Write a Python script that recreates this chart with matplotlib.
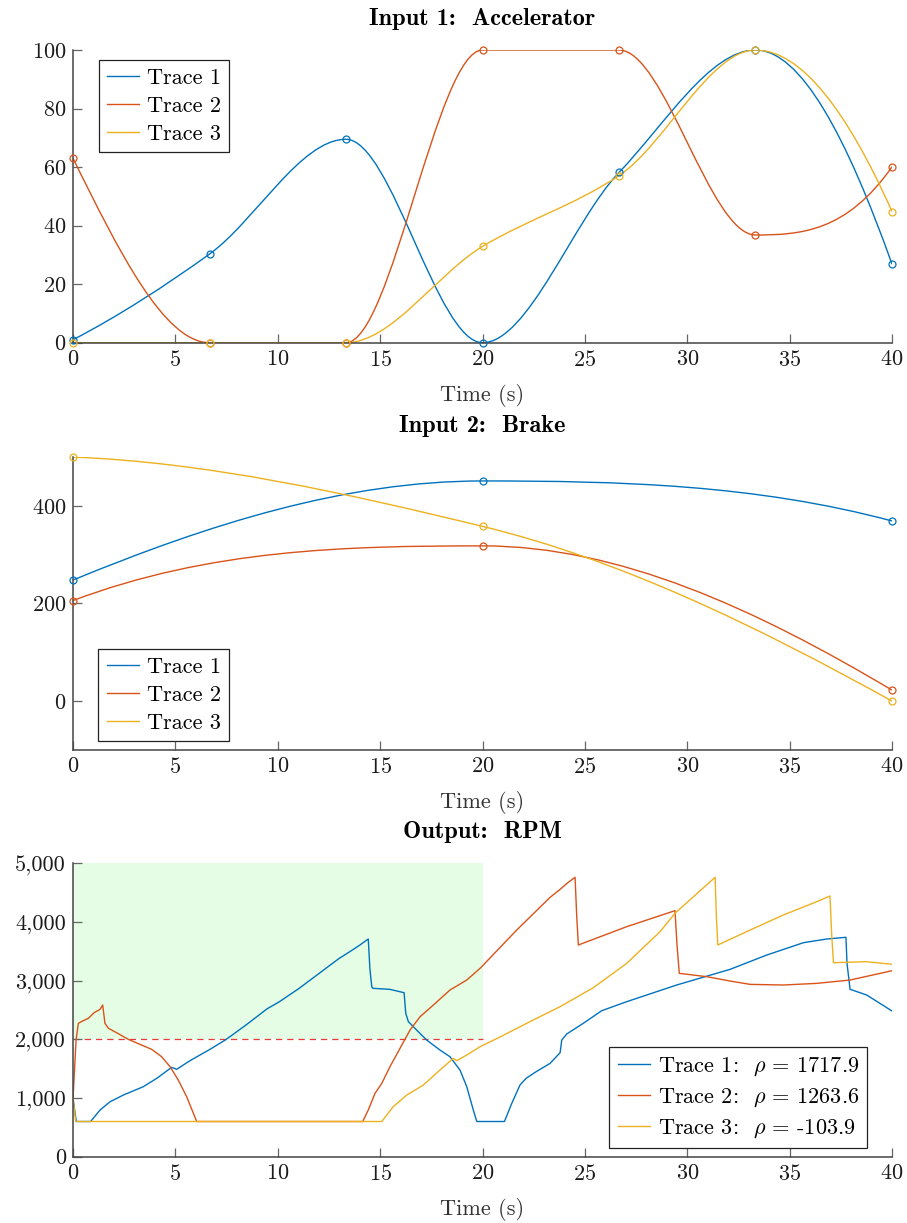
import numpy as np
import matplotlib
matplotlib.use('Agg')
import matplotlib.pyplot as plt
from matplotlib.path import Path
from matplotlib.patches import PathPatch
from matplotlib.lines import Line2D
from matplotlib.ticker import FuncFormatter

plt.rcParams['font.family'] = 'cmr10'
plt.rcParams['mathtext.fontset'] = 'cm'
plt.rcParams['axes.unicode_minus'] = False
plt.rcParams['axes.formatter.use_mathtext'] = True

# culori (paleta matlab)
colors = ['#0072BD', '#D95319', '#EDB120']
names = ['Trace 1', 'Trace 2', 'Trace 3']

# input 1 - accelerator, puncte
acc_t = [0, 6.67, 13.33, 20, 26.67, 33.33, 40]
acc_1 = [1, 30.3, 69.5, 0, 58.2, 100, 26.8]
acc_2 = [63, 0, 0, 100, 100, 36.8, 60.1]
acc_3 = [0, 0, 0, 32.9, 57.1, 100, 44.8]

# input 2 - brake
brk_t = [0, 20, 40]
brk_1 = [248, 451, 369]
brk_2 = [206, 318, 22.5]
brk_3 = [500, 358, 0]

# output - rpm
rpm_t1 = [0, 0.16, 0.86, 1.32, 1.81, 2.46, 3.43, 4.09, 4.82, 5.06, 5.71, 6.69, 7.45, 8.42,
          9.48, 10.05, 11.02, 12.0, 12.98, 13.5, 14.0, 14.42, 14.5, 14.59, 14.64, 15.48, 16.17,
          16.25, 16.38, 16.78, 17.27, 17.92, 18.41, 18.9, 19.23, 19.55, 19.72, 21.07, 21.43,
          21.83, 22.13, 22.62, 23.3, 23.79, 23.87, 24.11, 24.92, 25.82, 27.04, 29.48, 32.09,
          33.88, 35.67, 36.81, 37.75, 37.8, 37.95, 38.76, 40]
rpm_1 = [995, 600, 600, 796, 937, 1051, 1193, 1336, 1523, 1489, 1636, 1830, 1992, 2237,
         2521, 2635, 2863, 3119, 3375, 3490, 3605, 3710, 3200, 2898, 2870, 2852, 2795,
         2443, 2301, 2159, 1989, 1818, 1704, 1477, 1193, 796, 600, 600, 910,
         1222, 1336, 1449, 1591, 1773, 1989, 2091, 2273, 2488, 2642, 2926, 3193,
         3437, 3647, 3710, 3739, 3300, 2853, 2756, 2483]

rpm_t2 = [0, 0.15, 0.26, 0.5, 0.75, 1.03, 1.32, 1.45, 1.56, 1.73, 2.13, 2.7, 3.27, 3.84, 4.33,
          4.74, 5.14, 5.55, 6.04, 14.15, 14.42, 14.75, 15.08, 15.48, 15.97, 16.46, 16.95,
          17.6, 18.41, 19.23, 19.88, 21.67, 23.3, 23.79, 24.2, 24.52, 24.6, 24.68, 27.04,
          29.4, 29.5, 29.61, 30.95, 32.09, 33.07, 34.69, 36.32, 37.95, 40]
rpm_2 = [995, 1989, 2273, 2318, 2358, 2454, 2511, 2585, 2273, 2188, 2113, 2000, 1915, 1830, 1704,
         1534, 1307, 1023, 600, 600, 796, 1080, 1250, 1534, 1847, 2159, 2386,
         2585, 2841, 3011, 3210, 3863, 4420, 4557, 4680, 4761, 4100, 3608, 3920,
         4193, 3600, 3125, 3068, 2994, 2937, 2926, 2954, 3011, 3170]

rpm_t3 = [0, 0.13, 15.08, 15.64, 16.3, 17.11, 17.92, 18.57, 18.74, 19.23, 19.88, 20.85,
          22.48, 23.79, 25.41, 27.04, 28.67, 29.4, 30.3, 31.36, 31.42, 31.49, 33.07, 34.69,
          36.32, 36.97, 37.05, 37.14, 38.77, 40]
rpm_3 = [995, 600, 600, 852, 1051, 1222, 1477, 1676, 1636, 1733, 1875, 2040,
         2330, 2557, 2880, 3295, 3835, 4148, 4431, 4761, 4100, 3608, 3863, 4119,
         4346, 4443, 3800, 3306, 3323, 3279]

rho = ['1717.9', '1263.6', '-103.9']

# zona verde si pragul
zone_t = [0, 20]
zone_rpm = [2000, 5000]
prag = 2000


# panta pchip in fiecare nod (asa deseneaza originalul curbele)
def capat(h0, h1, d0, d1):
  s = ((2 * h0 + h1) * d0 - h0 * d1) / (h0 + h1)
  if np.sign(s) != np.sign(d0):
    s = 0.0
  elif np.sign(d0) != np.sign(d1) and abs(s) > abs(3 * d0):
    s = 3 * d0
  return s


def pante(x, y):
  x = np.asarray(x, float)
  y = np.asarray(y, float)
  h = np.diff(x)
  d = np.diff(y) / h
  m = np.zeros(len(x))
  for k in range(1, len(x) - 1):
    if d[k - 1] * d[k] > 0:
      w1 = 2 * h[k] + h[k - 1]
      w2 = h[k] + 2 * h[k - 1]
      m[k] = (w1 + w2) / (w1 / d[k - 1] + w2 / d[k])
  m[0] = capat(h[0], h[1], d[0], d[1])
  m[-1] = capat(h[-1], h[-2], d[-1], d[-2])
  return m


# curba neteda prin noduri, ca segmente bezier
def curba(ax, x, y, c):
  m = pante(x, y)
  verts = [(x[0], y[0])]
  codes = [Path.MOVETO]
  for i in range(len(x) - 1):
    h = x[i + 1] - x[i]
    verts += [(x[i] + h / 3, y[i] + m[i] * h / 3),
              (x[i + 1] - h / 3, y[i + 1] - m[i + 1] * h / 3),
              (x[i + 1], y[i + 1])]
    codes += [Path.CURVE4] * 3
  ax.add_patch(PathPatch(Path(verts, codes), fill=False, edgecolor=c, lw=1.0, zorder=2))
  ax.plot(x, y, 'o', mfc='none', mec=c, ms=5, mew=0.9, clip_on=False, zorder=3)


def aranjeaza(ax, titlu):
  ax.spines['top'].set_visible(False)
  ax.spines['right'].set_visible(False)
  for s in ['left', 'bottom']:
    ax.spines[s].set_color('#444444')
    ax.spines[s].set_linewidth(1.1)
  ax.tick_params(direction='in', length=6.5, width=0.9, color='#666666',
                 labelsize=16, labelcolor='#1a1a1a', pad=5)
  ax.set_xlim(0, 40)
  ax.set_xticks(range(0, 41, 5))
  ax.set_xlabel('Time (s)', fontsize=16, color='#333333', labelpad=10)
  ax.set_title(titlu, fontsize=17.5, fontfamily='cmb10', pad=18)


def legenda(ax, etichete, loc, anc):
  h = [Line2D([], [], color=c, lw=1.0) for c in colors]
  lg = ax.legend(h, etichete, loc=loc, bbox_to_anchor=anc, borderaxespad=0,
                 fontsize=16, fancybox=False, framealpha=1, edgecolor='#222222',
                 handlelength=1.45, handletextpad=0.35, borderpad=0.37, labelspacing=0.38)
  lg.get_frame().set_linewidth(0.9)


fig = plt.figure(figsize=(9.07, 12.23), dpi=100)
ax1 = fig.add_axes([0.0805, 0.7198, 0.903, 0.2393])
ax2 = fig.add_axes([0.0805, 0.3868, 0.903, 0.2395])
ax3 = fig.add_axes([0.0805, 0.0542, 0.903, 0.2399])

# grafic 1
for y, c in zip([acc_1, acc_2, acc_3], colors):
  curba(ax1, acc_t, y, c)
aranjeaza(ax1, 'Input 1:  Accelerator')
ax1.set_ylim(0, 100)
ax1.set_yticks(range(0, 101, 20))
legenda(ax1, names, 'upper left', (0.0317, 0.966))

# grafic 2
for y, c in zip([brk_1, brk_2, brk_3], colors):
  curba(ax2, brk_t, y, c)
aranjeaza(ax2, 'Input 2:  Brake')
ax2.set_ylim(-100, 500)
ax2.set_yticks([0, 200, 400])
legenda(ax2, names, 'lower left', (0.031, 0.031))

# grafic 3
ax3.fill_between(zone_t, zone_rpm[0], zone_rpm[1], color='#e4fde4', lw=0, zorder=0)
ax3.plot(zone_t, [prag, prag], color='#e83a3a', lw=0.9, dashes=(5, 4), zorder=1)
for t, y, c in zip([rpm_t1, rpm_t2, rpm_t3], [rpm_1, rpm_2, rpm_3], colors):
  ax3.plot(t, y, color=c, lw=1.0, zorder=2)
aranjeaza(ax3, 'Output:  RPM')
ax3.set_ylim(0, 5000)
ax3.set_yticks(range(0, 5001, 1000))
ax3.yaxis.set_major_formatter(FuncFormatter(lambda v, p: '{:,.0f}'.format(v)))
et3 = [n + r':  $\rho$ = ' + r for n, r in zip(names, rho)]
legenda(ax3, et3, 'lower right', (0.9695, 0.0297))

fig.savefig('out.png', dpi=100)
